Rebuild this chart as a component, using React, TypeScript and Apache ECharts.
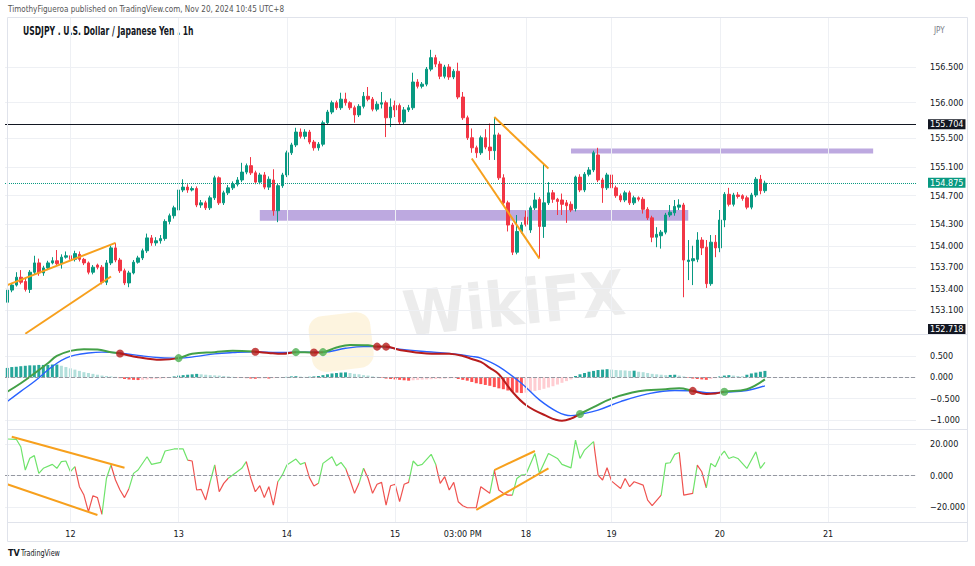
import React, { useEffect, useRef } from 'react';
import * as echarts from 'echarts';

const FONT = '"Liberation Sans Narrow", "DejaVu Sans Condensed", "Arial Narrow", sans-serif';

// ---- categories (hourly bars, UTC+8) ----
const daySegments: [string, number, number][] = [
  ['11', 10, 23], ['12', 0, 23], ['13', 0, 23], ['14', 0, 23], ['15', 0, 23],
  ['16', 0, 4], ['18', 5, 23], ['19', 0, 23], ['20', 0, 23], ['21', 0, 19],
];
const categories: string[] = [];
daySegments.forEach(([d, a, b]) => {
  for (let h = a; h <= b; h++) categories.push(`${d} ${String(h).padStart(2, '0')}:00`);
});

const timeLabels: [string, string][] = [
  ['12 00:00', '12'], ['13 00:00', '13'], ['14 00:00', '14'], ['15 00:00', '15'],
  ['15 15:00', '03:00 PM'], ['18 05:00', '18'], ['19 00:00', '19'], ['20 00:00', '20'], ['21 00:00', '21'],
];
const dayGridLines = ['12 00:00', '13 00:00', '14 00:00', '15 00:00', '18 05:00', '19 00:00', '20 00:00', '21 00:00'];

// ---- price candles [open, close, low, high] ----
const ohlc: number[][] = [
  [153.21, 153.38, 153.14, 153.42], [153.38, 153.45, 153.35, 153.48], [153.45, 153.56, 153.43, 153.63],
  [153.56, 153.49, 153.46, 153.66], [153.50, 153.39, 153.36, 153.55], [153.39, 153.63, 153.34, 153.66],
  [153.63, 153.76, 153.60, 153.86], [153.76, 153.62, 153.58, 153.82], [153.62, 153.69, 153.58, 153.72],
  [153.69, 153.76, 153.66, 153.79], [153.76, 153.79, 153.74, 153.84], [153.79, 153.75, 153.72, 153.94],
  [153.75, 153.84, 153.68, 153.88], [153.84, 153.86, 153.82, 153.92], [153.86, 153.81, 153.78, 153.90],
  [153.81, 153.89, 153.78, 153.93], [153.88, 153.81, 153.78, 153.92], [153.81, 153.76, 153.73, 153.83],
  [153.76, 153.63, 153.60, 153.78], [153.63, 153.70, 153.60, 153.73], [153.73, 153.70, 153.67, 153.75],
  [153.70, 153.49, 153.46, 153.73], [153.49, 153.76, 153.45, 153.80], [153.76, 153.97, 153.73, 154.00],
  [153.97, 153.80, 153.77, 154.04], [153.80, 153.65, 153.62, 153.83], [153.65, 153.48, 153.45, 153.68],
  [153.48, 153.62, 153.42, 153.65], [153.62, 153.77, 153.60, 153.80], [153.77, 153.83, 153.75, 153.86],
  [153.83, 153.93, 153.80, 153.96], [153.93, 154.11, 153.90, 154.17], [154.11, 154.04, 154.00, 154.15],
  [154.04, 154.07, 154.00, 154.12], [154.07, 154.10, 154.03, 154.15], [154.10, 154.34, 154.07, 154.37],
  [154.34, 154.42, 154.30, 154.45], [154.42, 154.53, 154.38, 154.56], [154.50, 154.78, 154.47, 154.80],
  [154.78, 154.82, 154.75, 154.93], [154.82, 154.78, 154.74, 154.86], [154.78, 154.80, 154.76, 154.83],
  [154.80, 154.57, 154.54, 154.83], [154.57, 154.60, 154.53, 154.64], [154.60, 154.53, 154.50, 154.63],
  [154.53, 154.67, 154.50, 154.70], [154.67, 154.95, 154.64, 154.98], [154.95, 154.60, 154.57, 154.97],
  [154.60, 154.74, 154.57, 154.77], [154.74, 154.81, 154.71, 154.85], [154.81, 154.86, 154.78, 154.90],
  [154.86, 154.92, 154.83, 154.96], [154.92, 155.03, 154.89, 155.16], [155.03, 155.12, 155.00, 155.15],
  [155.12, 155.02, 154.99, 155.24], [155.02, 154.89, 154.86, 155.05], [154.89, 154.99, 154.86, 155.02],
  [154.99, 154.82, 154.79, 155.03], [154.82, 154.93, 154.78, 154.97], [154.92, 154.49, 154.42, 155.07],
  [154.49, 154.84, 154.33, 154.87], [154.84, 154.99, 154.81, 155.02], [154.99, 155.30, 154.96, 155.33],
  [155.30, 155.41, 155.27, 155.44], [155.41, 155.59, 155.38, 155.65], [155.59, 155.53, 155.50, 155.64],
  [155.53, 155.59, 155.49, 155.63], [155.59, 155.45, 155.42, 155.62], [155.45, 155.37, 155.33, 155.48],
  [155.37, 155.42, 155.33, 155.45], [155.42, 155.72, 155.39, 155.75], [155.72, 155.87, 155.69, 155.90],
  [155.87, 156.00, 155.84, 156.03], [156.00, 155.93, 155.90, 156.03], [155.93, 156.05, 155.90, 156.14],
  [156.05, 156.00, 155.96, 156.14], [156.00, 155.93, 155.90, 156.02], [155.93, 155.83, 155.72, 155.96],
  [155.83, 155.95, 155.80, 155.98], [155.95, 156.09, 155.92, 156.15], [156.09, 156.05, 156.02, 156.22],
  [156.05, 155.91, 155.88, 156.08], [155.91, 155.98, 155.88, 156.02], [155.98, 156.00, 155.92, 156.15],
  [156.00, 155.79, 155.52, 156.03], [155.79, 155.94, 155.66, 156.06], [155.96, 155.90, 155.80, 156.03],
  [155.96, 155.73, 155.69, 155.99], [155.73, 155.90, 155.70, 155.94], [155.90, 155.93, 155.87, 155.97],
  [155.93, 156.29, 155.90, 156.42], [156.29, 156.23, 156.20, 156.33], [156.23, 156.26, 156.20, 156.29],
  [156.26, 156.47, 156.23, 156.50], [156.47, 156.63, 156.44, 156.74], [156.63, 156.54, 156.50, 156.67],
  [156.54, 156.37, 156.33, 156.58], [156.37, 156.50, 156.34, 156.53], [156.50, 156.36, 156.32, 156.54],
  [156.36, 156.44, 156.33, 156.47], [156.44, 156.08, 156.05, 156.56], [156.08, 155.79, 155.76, 156.15],
  [155.79, 155.51, 155.48, 155.82], [155.51, 155.37, 155.30, 155.64], [155.37, 155.30, 155.23, 155.40],
  [155.30, 155.51, 155.27, 155.54], [155.51, 155.38, 155.35, 155.63], [155.38, 155.33, 155.20, 155.71],
  [155.33, 155.55, 155.20, 155.79], [155.55, 154.95, 154.92, 155.58], [154.95, 154.60, 154.57, 155.00],
  [154.60, 154.29, 154.20, 154.63], [154.29, 153.91, 153.87, 154.32], [153.91, 154.20, 153.88, 154.43],
  [154.20, 154.29, 154.17, 154.33], [154.40, 154.30, 154.27, 154.49], [154.22, 154.53, 154.18, 154.56],
  [154.53, 154.64, 154.50, 154.74], [154.65, 154.27, 153.83, 154.68], [154.27, 154.60, 154.11, 155.13],
  [154.60, 154.74, 154.57, 154.89], [154.74, 154.65, 154.60, 154.78], [154.65, 154.62, 154.43, 154.67],
  [154.64, 154.58, 154.43, 154.73], [154.60, 154.56, 154.32, 154.64], [154.58, 154.50, 154.47, 154.62],
  [154.52, 154.96, 154.48, 154.98], [154.96, 154.78, 154.75, 155.00], [154.78, 155.00, 154.75, 155.03],
  [155.00, 155.06, 154.97, 155.10], [155.06, 155.30, 155.03, 155.33], [155.27, 154.92, 154.89, 155.37],
  [154.92, 154.81, 154.60, 154.95], [154.81, 154.99, 154.78, 155.02], [154.99, 154.81, 154.78, 155.06],
  [154.81, 154.70, 154.67, 154.84], [154.70, 154.64, 154.61, 154.73], [154.64, 154.74, 154.61, 154.77],
  [154.74, 154.60, 154.57, 154.77], [154.60, 154.67, 154.57, 154.70], [154.67, 154.65, 154.62, 154.69],
  [154.65, 154.51, 154.45, 154.68], [154.51, 154.39, 154.36, 154.54], [154.39, 154.12, 154.05, 154.42],
  [154.12, 154.16, 153.98, 154.26], [154.14, 154.19, 153.96, 154.22], [154.19, 154.43, 154.16, 154.46],
  [154.43, 154.47, 154.40, 154.57], [154.46, 154.55, 154.42, 154.64], [154.54, 154.57, 154.50, 154.65],
  [154.57, 153.80, 153.28, 154.60], [153.78, 153.80, 153.52, 154.08], [153.79, 153.82, 153.45, 154.00],
  [153.81, 154.08, 153.77, 154.19], [154.08, 153.97, 153.87, 154.12], [153.98, 153.47, 153.41, 154.08],
  [153.47, 154.05, 153.44, 154.15], [154.05, 153.97, 153.84, 154.15], [153.97, 154.36, 153.91, 154.50],
  [154.36, 154.72, 154.26, 154.75], [154.72, 154.58, 154.55, 154.81], [154.58, 154.71, 154.55, 154.74],
  [154.71, 154.69, 154.66, 154.75], [154.70, 154.66, 154.63, 154.72], [154.67, 154.54, 154.51, 154.70],
  [154.54, 154.71, 154.51, 154.74], [154.71, 154.93, 154.68, 154.96], [154.93, 154.77, 154.72, 154.99],
  [154.77, 154.875, 154.74, 154.91],
];

const priceTicks = [156.5, 156.0, 155.5, 155.1, 154.7, 154.3, 154.0, 153.7, 153.4, 153.1];
const macdTicks = [0.5, 0, -0.5, -1.0];
const oscTicks = [20, 0, -20];

const resistanceLevel = 155.704;
const lastPrice = 154.875;
const lowLabel = 152.718;

// purple zones: [fromIdx, topPrice, toIdx, bottomPrice]
const zones: [number, number, number, number][] = [
  [56, 154.50, 151, 154.35],
  [125, 155.36, 192, 155.29],
];
// orange trendlines on price: [[idx, price], [idx, price]]
const priceTrendlines: [number, number][][] = [
  [[0, 153.45], [24, 154.04]],
  [[4, 152.77], [23, 153.57]],
  [[108, 155.80], [120, 155.08]],
  [[103, 155.22], [118, 153.82]],
];
const oscTrendlines: [number, number][][] = [
  [[1, 24.6], [26, 5.0]],
  [[0, -5.4], [20, -24.8]],
  [[108, 3.6], [117, 15.6]],
  [[104, -21.6], [120, 4.7]],
];

// ---- MACD ----
const macdHist: number[] = [
  0.22, 0.24, 0.25, 0.26, 0.27, 0.28, 0.28, 0.29, 0.29, 0.29, 0.30, 0.30,
  0.27, 0.24, 0.21, 0.18, 0.15, 0.12, 0.10, 0.08, 0.06, 0.04, 0.03, 0.02, 0.01,
  -0.02, -0.04, -0.05, -0.06, -0.065, -0.06, -0.05, -0.045, -0.04, -0.03, -0.02, -0.01,
  0.02, 0.04, 0.05, 0.06, 0.07, 0.08,
  0.07, 0.06, 0.05, 0.045, 0.04, 0.03, 0.02, 0.01,
  -0.005, -0.01, -0.02, -0.03, -0.035,
  -0.03, -0.025, -0.03, -0.02, -0.015, -0.01,
  0.01, 0.02, 0.025, 0.015, 0.01, 0.012, 0.02, 0.03, 0.05,
  0.07, 0.09, 0.10, 0.11, 0.115,
  0.10, 0.08, 0.07, 0.05, 0.04, 0.02, 0.01,
  -0.01, -0.03, -0.04, -0.05, -0.06, -0.07, -0.08,
  -0.07, -0.065, -0.055, -0.05, -0.045, -0.04, -0.035, -0.03, -0.025, -0.02,
  -0.04, -0.06, -0.08, -0.11, -0.14, -0.16, -0.18, -0.20, -0.23, -0.26, -0.28, -0.31, -0.34, -0.36, -0.37,
  -0.36, -0.34, -0.32, -0.30, -0.27, -0.24, -0.21, -0.17, -0.13, -0.09, -0.05,
  0.03, 0.07, 0.10, 0.13, 0.15, 0.17, 0.18,
  0.19, 0.18, 0.17, 0.165, 0.16, 0.15, 0.155, 0.13, 0.12, 0.10, 0.08, 0.07, 0.06, 0.05,
  0.055, 0.06, 0.04, 0.02,
  -0.01, -0.03, -0.04, -0.05, -0.06, -0.04,
  -0.02, 0.02,
  0.04, 0.05, 0.04, 0.03, 0.025,
  0.06, 0.09, 0.11, 0.13, 0.15,
];
const macdLine: [number, number][] = [
  [0, -0.34], [3, -0.14], [6, 0.09], [9, 0.33], [11, 0.50], [14, 0.62], [17, 0.66], [20, 0.65],
  [23, 0.59], [25, 0.56], [29, 0.47], [34, 0.41], [38, 0.45], [41, 0.55], [46, 0.59], [50, 0.62],
  [55, 0.60], [58, 0.57], [61, 0.55], [64, 0.59], [68, 0.58], [70, 0.59], [73, 0.70], [76, 0.76],
  [80, 0.75], [82, 0.72], [84, 0.72], [87, 0.64], [93, 0.56], [98, 0.55], [101, 0.50], [103, 0.43],
  [105, 0.36], [107, 0.22], [109, 0.07], [112, -0.34], [115, -0.65], [119, -0.88], [123, -1.02],
  [125, -0.97], [127, -0.86], [130, -0.70], [134, -0.50], [140, -0.33], [146, -0.28], [149, -0.26],
  [152, -0.32], [155, -0.39], [157, -0.38], [159, -0.34], [164, -0.28], [168, -0.05],
];
const signalLine: [number, number][] = [
  [0, -0.57], [3, -0.33], [6, -0.10], [9, 0.17], [11, 0.33], [13, 0.45], [15, 0.52], [18, 0.57],
  [21, 0.59], [25, 0.57], [30, 0.50], [34, 0.46], [38, 0.45], [42, 0.49], [46, 0.55], [50, 0.58],
  [55, 0.60], [60, 0.58], [64, 0.59], [70, 0.59], [75, 0.68], [79, 0.72], [82, 0.72], [84, 0.71],
  [87, 0.66], [93, 0.60], [98, 0.56], [103, 0.49], [105, 0.45], [109, 0.25], [114, -0.14],
  [118, -0.53], [122, -0.81], [125, -0.90], [127, -0.87], [131, -0.77], [136, -0.57], [142, -0.39],
  [148, -0.31], [152, -0.32], [156, -0.37], [159, -0.35], [164, -0.31], [168, -0.20],
];
// where the MACD line changes colour (up = above signal)
const macdTurns: [number, 'up' | 'dn'][] = [
  [25, 'dn'], [38, 'up'], [55, 'dn'], [64, 'up'], [68, 'dn'], [70, 'up'], [82, 'dn'], [83, 'up'],
  [84, 'dn'], [127, 'up'], [152, 'dn'], [159, 'up'],
];
const crossDots: [number, number, 'up' | 'dn'][] = [
  [25, 0.56, 'dn'], [38, 0.45, 'up'], [55, 0.60, 'dn'], [64, 0.59, 'up'], [68, 0.58, 'dn'],
  [70, 0.59, 'up'], [82, 0.72, 'dn'], [84, 0.72, 'dn'], [127, -0.86, 'up'], [152, -0.32, 'dn'],
  [159, -0.34, 'up'],
];

// ---- oscillator ----
const oscLine: [number, number][] = [
  [0, 23.2], [2, 23.0], [3, 18.3], [4, 3.6], [5, 11.0], [6, 12.7], [7, 1.5], [8, 4.7], [10, 7.2], [11, 4.7],
  [12, 8.9], [13, 9.3], [14, 2.6], [15, 5.7], [16, -6.9], [17, -12.2], [18, -22.7], [19, -12.6], [20, -13.8],
  [21, -24.4], [22, -1.6], [23, 6.8], [24, -2.7], [25, -9.0], [26, -13.8], [27, -8.0], [28, 1.5], [29, 3.6],
  [31, 12.0], [32, 7.2], [34, 8.4], [35, 15.6], [37, 16.9], [39, 16.9], [40, 9.9], [41, 9.3], [42, -9.0],
  [43, -8.6], [44, -15.3], [45, -3.8], [46, 6.8], [47, -10.1], [48, -4.8], [49, -1.6], [50, 0.5], [52, 4.7],
  [53, 8.9], [54, -1.6], [55, -10.1], [56, -6.3], [57, -13.8], [58, -6.9], [59, -18.5], [60, -3.8], [61, 0.5],
  [62, 6.8], [64, 10.5], [65, 7.2], [66, 8.4], [67, -1.2], [68, -6.5], [69, -4.8], [70, 7.8], [72, 12.0],
  [73, 6.3], [74, 8.4], [75, 4.7], [76, -2.7], [77, -11.1], [78, -4.8], [79, 4.7], [80, -1.6], [81, -11.1],
  [82, -5.4], [83, -4.2], [84, -18.5], [85, -6.3], [86, -5.4], [87, -16.4], [88, -5.4], [89, -4.2], [90, 9.3],
  [91, 6.3], [92, 7.2], [94, 13.5], [95, 7.2], [96, -4.8], [97, -0.6], [98, -9.0], [99, -4.2], [100, -16.4],
  [101, -18.9], [102, -20.2], [104, -20.2], [105, -6.9], [106, -9.0], [107, -11.1], [108, 3.6], [109, -9.0],
  [110, -11.1], [111, -12.2], [112, -12.2], [113, -1.7], [114, 0.4], [115, 0.8], [117, 14.1], [118, 1.5],
  [120, 14.1], [122, 10.9], [123, 7.2], [125, 5.0], [126, 22.5], [127, 10.9], [128, 16.2], [130, 21.5],
  [131, 0.4], [132, -2.7], [133, 5.0], [134, -3.4], [136, -8.0], [137, -1.7], [138, -6.9], [139, -3.8],
  [141, -5.9], [142, -15.4], [143, -18.9], [145, -12.2], [146, 7.8], [147, 8.2], [148, 13.5], [149, 14.7],
  [150, -12.2], [152, -11.1], [153, 6.7], [154, 2.5], [155, -7.6], [156, 7.8], [157, 5.7], [158, 12.0],
  [159, 15.6], [160, 10.9], [161, 12.0], [162, 10.9], [164, 4.6], [166, 15.1], [167, 4.6], [168, 8.4],
];
// stretches (by bar index) where the oscillator is drawn green
const oscGreenRanges: [number, number][] = [
  [0, 15], [21, 23], [27, 40], [45, 46], [49, 53], [60, 66], [69, 75], [78, 79], [89, 95],
  [107, 108], [112, 130], [145, 149], [152, 153], [155, 168],
];

const UP = '#089981';
const DOWN = '#f23645';
const GRID = '#eef0f4';
const MACD_GREEN = '#43a047';
const MACD_RED = '#b71c1c';
const OSC_GREEN = '#6ee36a';
const OSC_RED = '#ef5350';
const ORANGE = '#f7a01d';
const AXIS_FS = 9;

const fmt = (v: number, d = 3) => (v < 0 ? '\u2212' + Math.abs(v).toFixed(d) : v.toFixed(d));

export default function App() {
  const ref = useRef<HTMLDivElement>(null);
  useEffect(() => {
    if (!ref.current) return;
    const chart = echarts.init(ref.current, undefined, { renderer: 'svg' });

    const labelByIdx: Record<number, string> = {};
    timeLabels.forEach(([c, t]) => { labelByIdx[categories.indexOf(c)] = t; });
    const gridIdx = dayGridLines.map((c) => categories.indexOf(c));
    const vLines = gridIdx.map((i) => ({ xAxis: i, lineStyle: { color: GRID, width: 1, type: 'solid' } }));

    const grids = [
      { left: 5, right: 59, top: 17, height: 317 },
      { left: 5, right: 59, top: 334, height: 95 },
      { left: 5, right: 59, top: 429, height: 93 },
    ];
    const xAxes = [0, 1, 2].map((g) => ({
      type: 'category',
      gridIndex: g,
      data: categories,
      boundaryGap: true,
      axisLine: { show: false },
      axisTick: { show: false },
      splitLine: { show: false },
      axisLabel: {
        show: g === 2,
        interval: (idx: number) => labelByIdx[idx] !== undefined,
        formatter: (_v: string, idx: number) => labelByIdx[idx] ?? '',
        color: '#131722',
        fontSize: AXIS_FS,
        fontFamily: FONT,
        margin: 7,
      },
    }));
    const yAxisBase = (g: number, min: number, max: number, ticks: number[]) => ({
      type: 'value',
      gridIndex: g,
      position: 'right',
      min,
      max,
      axisLine: { show: false },
      axisTick: { show: false, customValues: ticks },
      axisLabel: {
        customValues: ticks,
        formatter: (v: number) => fmt(v),
        align: 'left',
        margin: 14,
        color: '#131722',
        fontSize: AXIS_FS,
        fontFamily: FONT,
      },
      splitLine: { show: true, lineStyle: { color: GRID, width: 1 } },
    });

    // macd line colour pieces
    const macdPieces: any[] = [];
    let prev = -Infinity;
    let col = MACD_GREEN;
    macdTurns.forEach(([i, dir]) => {
      macdPieces.push({ gte: prev, lt: i, color: col });
      prev = i;
      col = dir === 'up' ? MACD_GREEN : MACD_RED;
    });
    macdPieces.push({ gte: prev, lt: 1000, color: col });

    const oscPieces: any[] = [];
    let p0 = -1000;
    oscGreenRanges.forEach(([a, b]) => {
      if (a > p0) oscPieces.push({ gte: p0, lt: a, color: OSC_RED });
      oscPieces.push({ gte: a, lt: b, color: OSC_GREEN });
      p0 = b;
    });
    oscPieces.push({ gte: p0, lt: 1000, color: OSC_RED });

    const histData = macdHist.map((v, i) => {
      const pv = i > 0 ? macdHist[i - 1] : v;
      const c = v >= 0 ? (v >= pv ? '#26a69a' : '#b2dfdb') : (v < pv ? '#ff5252' : '#ffcdd2');
      return { value: v, itemStyle: { color: c } };
    });

    const priceLabel = (bg: string) => ({
      show: true,
      position: 'end',
      distance: 12,
      color: '#fff',
      backgroundColor: bg,
      padding: [1, 2, 0, 2],
      fontSize: AXIS_FS,
      fontFamily: FONT,
    });

    const option: any = {
      animation: false,
      backgroundColor: '#ffffff',
      textStyle: { fontFamily: FONT },
      grid: grids,
      xAxis: xAxes,
      yAxis: [
        yAxisBase(0, 152.766, 157.199, priceTicks),
        yAxisBase(1, -1.214, 1.016, macdTicks),
        yAxisBase(2, -29.2, 29.5, oscTicks),
      ],
      visualMap: [
        { show: false, type: 'piecewise', seriesIndex: 3, dimension: 0, pieces: macdPieces },
        { show: false, type: 'piecewise', seriesIndex: 5, dimension: 0, pieces: oscPieces },
      ],
      series: [
        {
          type: 'candlestick',
          xAxisIndex: 0,
          yAxisIndex: 0,
          data: ohlc,
          barWidth: 3,
          itemStyle: { color: UP, color0: DOWN, borderColor: UP, borderColor0: DOWN, borderWidth: 1 },
          markArea: {
            silent: true,
            itemStyle: { color: 'rgba(149,117,205,0.62)' },
            data: zones.map(([a, t, b, btm]) => [{ coord: [a, t] }, { coord: [b, btm] }]),
          },
          markLine: {
            silent: true,
            symbol: ['none', 'none'],
            label: { show: false },
            data: [
              ...vLines,
              {
                yAxis: resistanceLevel,
                lineStyle: { color: '#131722', width: 1, type: 'solid' },
                label: { ...priceLabel('#131722'), formatter: resistanceLevel.toFixed(3) },
              },
              {
                yAxis: lastPrice,
                lineStyle: { color: UP, width: 1, type: 'dotted' },
                label: { ...priceLabel(UP), formatter: lastPrice.toFixed(3) },
              },
              ...priceTrendlines.map(([a, b]) => [
                { coord: a, lineStyle: { color: ORANGE, width: 2, type: 'solid' } },
                { coord: b },
              ]),
            ],
          },
        },
        {
          type: 'bar',
          xAxisIndex: 1,
          yAxisIndex: 1,
          data: histData,
          barWidth: 3,
          markLine: {
            silent: true,
            symbol: ['none', 'none'],
            label: { show: false },
            data: [...vLines, { yAxis: 0, lineStyle: { color: '#9598a1', width: 1, type: 'dashed' } }],
          },
        },
        {
          type: 'line',
          xAxisIndex: 1,
          yAxisIndex: 1,
          data: signalLine,
          smooth: 0.4,
          symbol: 'none',
          lineStyle: { color: '#2962ff', width: 1.4 },
        },
        {
          type: 'line',
          xAxisIndex: 1,
          yAxisIndex: 1,
          data: macdLine,
          smooth: 0.4,
          symbol: 'none',
          lineStyle: { width: 2 },
        },
        {
          type: 'scatter',
          xAxisIndex: 1,
          yAxisIndex: 1,
          symbolSize: 8,
          data: crossDots.map(([i, v, d]) => ({
            value: [i, v],
            itemStyle: { color: d === 'up' ? '#4caf50' : MACD_RED },
          })),
          z: 5,
        },
        {
          type: 'line',
          xAxisIndex: 2,
          yAxisIndex: 2,
          data: oscLine,
          symbol: 'none',
          lineStyle: { width: 1.2 },
          markLine: {
            silent: true,
            symbol: ['none', 'none'],
            label: { show: false },
            data: [
              ...vLines,
              { yAxis: 0, lineStyle: { color: '#9598a1', width: 1, type: 'dashed' } },
              ...oscTrendlines.map(([a, b]) => [
                { coord: a, lineStyle: { color: ORANGE, width: 2, type: 'solid' } },
                { coord: b },
              ]),
            ],
          },
        },
      ],
      graphic: [
        // watermark
        {
          type: 'rect', silent: true, z: -10, x: 307, y: 318, rotation: 0.12,
          shape: { x: 0, y: 0, width: 62, height: 56, r: 14 },
          style: { fill: 'rgba(248,215,140,0.28)' },
        },
        {
          type: 'text', silent: true, z: -10, x: 400, y: 284, rotation: 0.1, scaleX: 0.92,
          style: { text: 'WikiFX', font: 'bold 62px "DejaVu Sans", sans-serif', fill: 'rgba(170,170,170,0.22)' },
        },
        // frame & separators
        {
          type: 'rect', silent: true, z: 100,
          shape: { x: 7.5, y: 17.5, width: 960, height: 524 },
          style: { fill: 'none', stroke: '#e0e3eb', lineWidth: 1 },
        },
        { type: 'line', silent: true, z: 100, shape: { x1: 7, y1: 334.5, x2: 968, y2: 334.5 }, style: { stroke: '#e0e3eb', lineWidth: 1 } },
        { type: 'line', silent: true, z: 100, shape: { x1: 7, y1: 429.5, x2: 968, y2: 429.5 }, style: { stroke: '#e0e3eb', lineWidth: 1 } },
        { type: 'line', silent: true, z: 100, shape: { x1: 7, y1: 522.5, x2: 968, y2: 522.5 }, style: { stroke: '#e0e3eb', lineWidth: 1 } },
        // texts
        {
          type: 'text', x: 8, y: 9, silent: true, scaleX: 0.85,
          style: {
            text: 'TimothyFigueroa published on TradingView.com, Nov 20, 2024 10:45 UTC+8',
            font: `9.5px ${FONT}`, fill: '#555', verticalAlign: 'middle',
          },
        },
        {
          type: 'text', x: 23, y: 31, silent: true, scaleX: 0.74,
          style: { text: 'USDJPY . U.S. Dollar / Japanese Yen . 1h', font: `bold 11.5px ${FONT}`, fill: '#131722', verticalAlign: 'middle' },
        },
        {
          type: 'text', x: 934, y: 30, silent: true,
          style: { text: 'JPY', font: `8px ${FONT}`, fill: '#787b86', verticalAlign: 'middle' },
        },
        {
          type: 'text', x: 928, y: 329, silent: true, z: 110,
          style: {
            text: lowLabel.toFixed(3), font: `${AXIS_FS}px ${FONT}`, fill: '#fff', backgroundColor: '#131722',
            padding: [1, 2, 0, 2], verticalAlign: 'middle',
          },
        },
        {
          type: 'text', x: 8, y: 553, silent: true,
          style: { text: 'TV', font: `bold 9px ${FONT}`, fill: '#131722', verticalAlign: 'middle' },
        },
        {
          type: 'text', x: 21, y: 553, silent: true, scaleX: 0.8,
          style: { text: 'TradingView', font: `9px ${FONT}`, fill: '#131722', verticalAlign: 'middle' },
        },
      ],
    };
    chart.setOption(option);
    return () => chart.dispose();
  }, []);
  return <div ref={ref} style={{ position: 'absolute', left: 0, top: 0, width: 975, height: 566 }} />;
}
